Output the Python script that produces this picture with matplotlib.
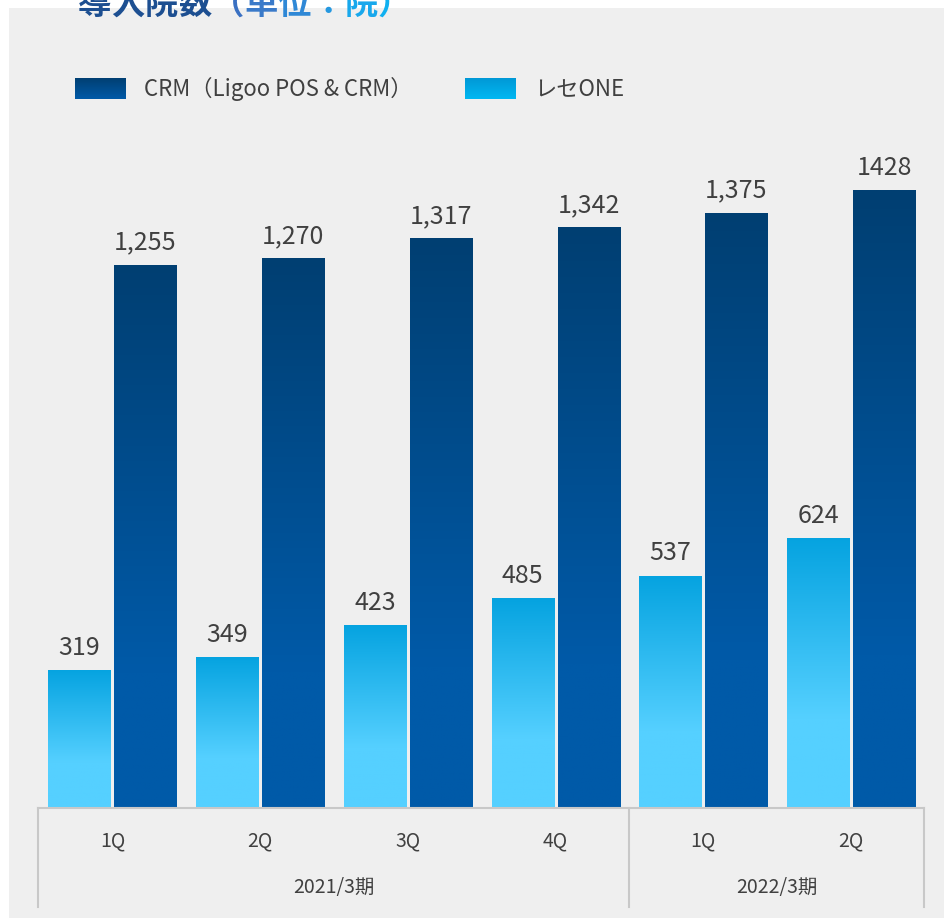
import numpy as np
import matplotlib
matplotlib.use("Agg")
import matplotlib.pyplot as plt
from matplotlib.colors import LinearSegmentedColormap
from matplotlib.patches import Rectangle

plt.rcParams["font.family"] = ["Noto Sans CJK JP", "DejaVu Sans"]

# data
quarters = ["1Q", "2Q", "3Q", "4Q", "1Q", "2Q"]
fiscal_years = ["2021/3期", "2022/3期"]
year_spans = [(0, 3), (4, 5)]
crm = [1255, 1270, 1317, 1342, 1375, 1428]
crm_text = ["1,255", "1,270", "1,317", "1,342", "1,375", "1428"]
rese = [319, 349, 423, 485, 537, 624]
rese_text = ["319", "349", "423", "485", "537", "624"]

W, H = 945, 918
TXT = "#404040"
GRID = "#c8c8c8"

dark_cmap = LinearSegmentedColormap.from_list(
    "dark", [(0, "#005aa8"), (0.25, "#005aa8"), (1, "#003f72")])
light_cmap = LinearSegmentedColormap.from_list(
    "light", [(0, "#55d0ff"), (0.33, "#55d0ff"), (1, "#05a3e0")])
grad = np.linspace(0, 1, 256).reshape(-1, 1)


def fx(px):
    return px / W


def fy(py):
    return 1 - py / H


fig = plt.figure(figsize=(W / 100, H / 100), dpi=100)
fig.patch.set_facecolor("white")
# grey panel
fig.patches.append(Rectangle((fx(9), 0), 1 - fx(9), fy(8), transform=fig.transFigure,
                             facecolor="#efefef", edgecolor="none", zorder=-10))

ax_left, ax_right, ax_bottom, ax_top = 38.6, 924.9, 808, 140
ax_h = ax_bottom - ax_top
ax = fig.add_axes([fx(ax_left), fy(ax_bottom), (ax_right - ax_left) / W, ax_h / H])
ax.set_facecolor("none")
ymax = ax_h / 0.4327
for s in ax.spines.values():
    s.set_visible(False)
ax.set_xticks([])
ax.set_yticks([])

x = np.arange(len(quarters))
bw = 0.42
off = 0.223


def grad_bars(xs, vals, cmap):
    bars = ax.bar(xs, vals, width=bw, color="none", edgecolor="none")
    for b in bars:
        x0, h = b.get_x(), b.get_height()
        im = ax.imshow(grad, extent=[x0, x0 + b.get_width(), 0, h], origin="lower",
                       aspect="auto", cmap=cmap, vmin=0, vmax=1, zorder=2)
        im.set_clip_path(b)
    return bars


grad_bars(x - off, rese, light_cmap)
grad_bars(x + off, crm, dark_cmap)
ax.set_xlim(-0.5, 5.5)
ax.set_ylim(0, ymax)

for xi, v, t in zip(x - off, rese, rese_text):
    ax.annotate(t, (xi, v), xytext=(0, 11), textcoords="offset points",
                ha="center", va="baseline", fontsize=18, color=TXT)
for xi, v, t in zip(x + off, crm, crm_text):
    ax.annotate(t, (xi, v), xytext=(0, 11), textcoords="offset points",
                ha="center", va="baseline", fontsize=18, color=TXT)

# category axis below the bars
fig.add_artist(plt.Line2D([fx(38), fx(924)], [fy(808), fy(808)], color=GRID, lw=1.5))
for px in [38, 629, 924]:
    fig.add_artist(plt.Line2D([fx(px), fx(px)], [fy(808), fy(907)], color=GRID, lw=1.5))
for xi, q in zip(x, quarters):
    ax.text(xi, -33 / ax_h, q, transform=ax.get_xaxis_transform(),
            ha="center", va="center", fontsize=14, color=TXT)
for (a, b), yr in zip(year_spans, fiscal_years):
    ax.text((a + b) / 2, -80 / ax_h, yr, transform=ax.get_xaxis_transform(),
            ha="center", va="center", fontsize=14, color=TXT)

# legend
leg_dark = LinearSegmentedColormap.from_list("ld", ["#005aa8", "#003f72"])
leg_light = LinearSegmentedColormap.from_list("ll", ["#00b8f2", "#0098d6"])
for px, cm in [(75, leg_dark), (465, leg_light)]:
    lax = fig.add_axes([fx(px), fy(99), 51 / W, 21 / H])
    lax.imshow(grad, origin="lower", aspect="auto", cmap=cm, extent=[0, 1, 0, 1])
    lax.axis("off")
fig.text(fx(144), fy(89), "CRM（Ligoo POS & CRM）", ha="left", va="center",
         fontsize=16, color=TXT)
fig.text(fx(534), fy(89), "レセONE", ha="left", va="center", fontsize=16, color=TXT)

# title (cut off at the top edge, as in the source)
title_chars = list("導入院数（単位：院）")
title_cols = ["#1d4f91"] * 4 + ["#3a70c2", "#3a7ac9", "#2f88d6", "#2598e0", "#18a8ec", "#10b0f0"]
for i, (c, col) in enumerate(zip(title_chars, title_cols)):
    fig.text(fx(78 + 33.3 * i), fy(14), c, ha="left", va="baseline", fontsize=24,
             fontweight="bold", color=col)

fig.savefig("out.png", dpi=100, facecolor=fig.get_facecolor())
